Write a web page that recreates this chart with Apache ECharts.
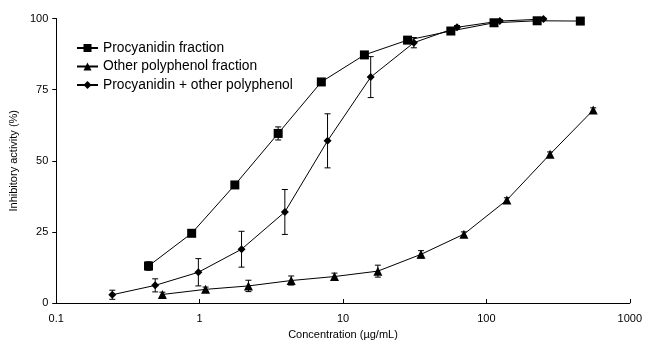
<!DOCTYPE html>
<html>
<head>
<meta charset="utf-8">
<script src="https://cdn.jsdelivr.net/npm/echarts@6/dist/echarts.min.js"></script>
<style>html,body{margin:0;padding:0;background:#fff}#c{width:645px;height:345px}</style>
</head>
<body>
<div id="c"></div>
<script>
// Procyanidin fraction
const procX   = [0.44, 0.88, 1.76, 3.53, 7.06, 14.1, 28.2, 56.5, 113, 226, 452];
const procY   = [13.0, 24.5, 41.5, 59.6, 77.7, 87.2, 92.4, 95.6, 98.5, 99.2, 99.1];
const procErr = [1.5, 1.0, 1.2, 2.3, 0.6, 0.6, 0.8, 0.6, 0.5, 0.4, 0.3];
// Other polyphenol fraction
const othX    = [0.55, 1.1, 2.19, 4.35, 8.72, 17.5, 35, 69.7, 139, 278, 556];
const othY    = [3.0, 4.8, 6.0, 7.9, 9.3, 11.2, 17.1, 24.2, 36.2, 52.3, 67.8];
const othErr  = [0.8, 0.8, 2.0, 1.6, 1.2, 2.1, 1.3, 0.8, 0.8, 0.8, 0.8];
// Procyanidin + other polyphenol
const mixX    = [0.246, 0.49, 0.98, 1.96, 3.93, 7.8, 15.6, 31.2, 62.4, 124, 250];
const mixY    = [2.9, 6.2, 10.8, 18.9, 32.0, 57.0, 79.4, 91.5, 96.9, 99.1, 99.8];
const mixErr  = [1.6, 2.3, 4.8, 6.3, 7.9, 9.5, 7.2, 1.8, 0.6, 0.5, 0.3];

const xTicks = [0.1, 1, 10, 100, 1000];
const yTicks = [0, 25, 50, 75, 100];
const names = ['Procyanidin fraction', 'Other polyphenol fraction', 'Procyanidin + other polyphenol'];

const pairs = (xs, ys) => xs.map((x, i) => [x, ys[i]]);
const errs = (xs, ys, es) => xs.map((x, i) => [x, ys[i] - es[i], ys[i] + es[i]]);

function errSeries(data) {
  return {
    type: 'custom',
    data: data,
    z: 1,
    silent: true,
    renderItem: function (params, api) {
      const x = api.value(0), lo = api.value(1), hi = api.value(2);
      const p1 = api.coord([x, hi]);
      const p2 = api.coord([x, lo]);
      const w = 3;
      const st = { stroke: '#000', lineWidth: 1 };
      return {
        type: 'group',
        children: [
          { type: 'line', shape: { x1: p1[0], y1: p1[1], x2: p2[0], y2: p2[1] }, style: st },
          { type: 'line', shape: { x1: p1[0] - w, y1: p1[1], x2: p1[0] + w, y2: p1[1] }, style: st },
          { type: 'line', shape: { x1: p2[0] - w, y1: p2[1], x2: p2[0] + w, y2: p2[1] }, style: st }
        ]
      };
    }
  };
}

function lineSeries(name, data, symbol, size) {
  return {
    name: name,
    type: 'line',
    data: data,
    symbol: symbol,
    symbolSize: size,
    showAllSymbol: true,
    z: 3,
    lineStyle: { color: '#000', width: 1 },
    itemStyle: { color: '#000', borderColor: '#000', borderWidth: 0 },
    emphasis: { disabled: true },
    animation: false
  };
}

const chart = echarts.init(document.getElementById('c'));
chart.setOption({
  animation: false,
  textStyle: { fontFamily: 'Liberation Sans, Arial, sans-serif' },
  grid: { left: 54, right: 12, top: 18.5, bottom: 42, containLabel: false },
  legend: {
    orient: 'vertical',
    left: 76,
    top: 41,
    padding: 0,
    itemWidth: 21,
    itemHeight: 10,
    itemGap: 4.5,
    data: names,
    textStyle: { fontSize: 13.8, color: '#000', fontFamily: 'Liberation Sans, Arial, sans-serif' }
  },
  xAxis: {
    type: 'log',
    logBase: 10,
    min: 0.1,
    max: 1000,
    name: 'Concentration (\u00b5g/mL)',
    nameLocation: 'middle',
    nameGap: 26,
    nameTextStyle: { fontSize: 11, color: '#000' },
    axisLine: { lineStyle: { color: '#000', width: 1 } },
    axisTick: { inside: true, length: 4, lineStyle: { color: '#000' } },
    axisLabel: {
      fontSize: 11, color: '#000', margin: 10,
      formatter: function (v) { const r = xTicks.find(t => Math.abs(t - v) / t < 1e-6); return r !== undefined ? String(r) : ''; }
    },
    splitLine: { show: false },
    minorTick: { show: false }
  },
  yAxis: {
    type: 'value',
    min: 0,
    max: 100,
    interval: 25,
    name: 'Inhibitory activity (%)',
    nameLocation: 'middle',
    nameGap: 30,
    nameTextStyle: { fontSize: 11, color: '#000' },
    axisLine: { show: true, lineStyle: { color: '#000', width: 1 } },
    axisTick: { show: true, inside: false, length: 4, lineStyle: { color: '#000' } },
    axisLabel: { fontSize: 11, color: '#000', margin: 8,
      formatter: function (v) { return yTicks.indexOf(v) >= 0 ? String(v) : ''; } },
    splitLine: { show: false }
  },
  series: [
    errSeries(errs(procX, procY, procErr)),
    errSeries(errs(othX, othY, othErr)),
    errSeries(errs(mixX, mixY, mixErr)),
    lineSeries(names[0], pairs(procX, procY), 'rect', 9),
    lineSeries(names[1], pairs(othX, othY), 'triangle', 9),
    lineSeries(names[2], pairs(mixX, mixY), 'diamond', 8)
  ]
});
</script>
</body>
</html>
